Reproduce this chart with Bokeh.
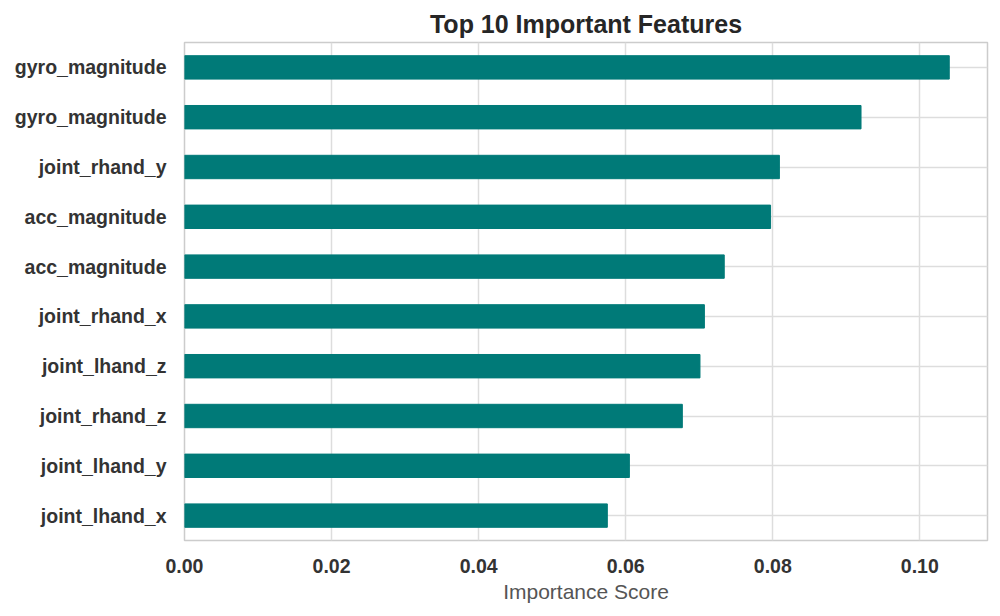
from bokeh.plotting import figure
from bokeh.models import Range1d, FixedTicker, NumeralTickFormatter, ColumnDataSource
from bokeh.embed import file_html
from bokeh.resources import INLINE

features = ["gyro_magnitude", "gyro_magnitude", "joint_rhand_y", "acc_magnitude",
            "acc_magnitude", "joint_rhand_x", "joint_lhand_z", "joint_rhand_z",
            "joint_lhand_y", "joint_lhand_x"]
scores = [0.1040, 0.0920, 0.0809, 0.0797, 0.0734, 0.0707, 0.0701, 0.0677, 0.0605, 0.0575]
x_ticks = [0.0, 0.02, 0.04, 0.06, 0.08, 0.10]
title_text = "Top 10 Important Features"
x_label = "Importance Score"

positions = list(range(len(features)))
src = ColumnDataSource(dict(y=positions, score=scores, name=features))

FONT = "Liberation Sans"

p = figure(width=992, height=608, output_backend="svg", toolbar_location=None,
           x_range=Range1d(0, max(scores) * 1.05),
           y_range=Range1d(len(features) - 0.5, -0.5),
           min_border_left=184, min_border_right=5, min_border_top=42, min_border_bottom=68)

p.hbar(y="y", left=0, right="score", height=0.47, source=src,
       fill_color="#007A78", line_color="#007A78")

p.title.text = title_text
p.title.align = "center"
p.title.text_font = FONT
p.title.text_font_size = "25px"
p.title.text_font_style = "bold"
p.title.text_color = "#262626"

p.outline_line_color = "#cccccc"
p.outline_line_width = 1.5
p.background_fill_color = "white"
p.border_fill_color = "white"

# x axis
xa = p.xaxis[0]
xa.ticker = FixedTicker(ticks=x_ticks)
xa.formatter = NumeralTickFormatter(format="0.00")
xa.axis_line_color = None
xa.major_tick_line_color = None
xa.minor_tick_line_color = None
xa.major_tick_out = 0
xa.major_tick_in = 0
xa.major_label_standoff = 18
xa.major_label_text_font = FONT
xa.major_label_text_font_size = "19.5px"
xa.major_label_text_font_style = "bold"
xa.major_label_text_color = "#333333"
xa.axis_label = x_label
xa.axis_label_text_font = FONT
xa.axis_label_text_font_size = "21px"
xa.axis_label_text_font_style = "normal"
xa.axis_label_text_color = "#555555"
xa.axis_label_standoff = 4

# y axis
ya = p.yaxis[0]
ya.ticker = FixedTicker(ticks=positions)
ya.major_label_overrides = {i: n for i, n in zip(positions, features)}
ya.axis_line_color = None
ya.major_tick_line_color = None
ya.minor_tick_line_color = None
ya.major_tick_out = 0
ya.major_tick_in = 0
ya.major_label_standoff = 18
ya.major_label_text_font = FONT
ya.major_label_text_font_size = "19.5px"
ya.major_label_text_font_style = "bold"
ya.major_label_text_color = "#333333"

p.xgrid.ticker = FixedTicker(ticks=x_ticks)
p.ygrid.ticker = FixedTicker(ticks=positions)
for g in (p.xgrid[0], p.ygrid[0]):
    g.grid_line_color = "#dddddd"
    g.grid_line_width = 1.5

open("out.html", "w").write(file_html(p, INLINE))
